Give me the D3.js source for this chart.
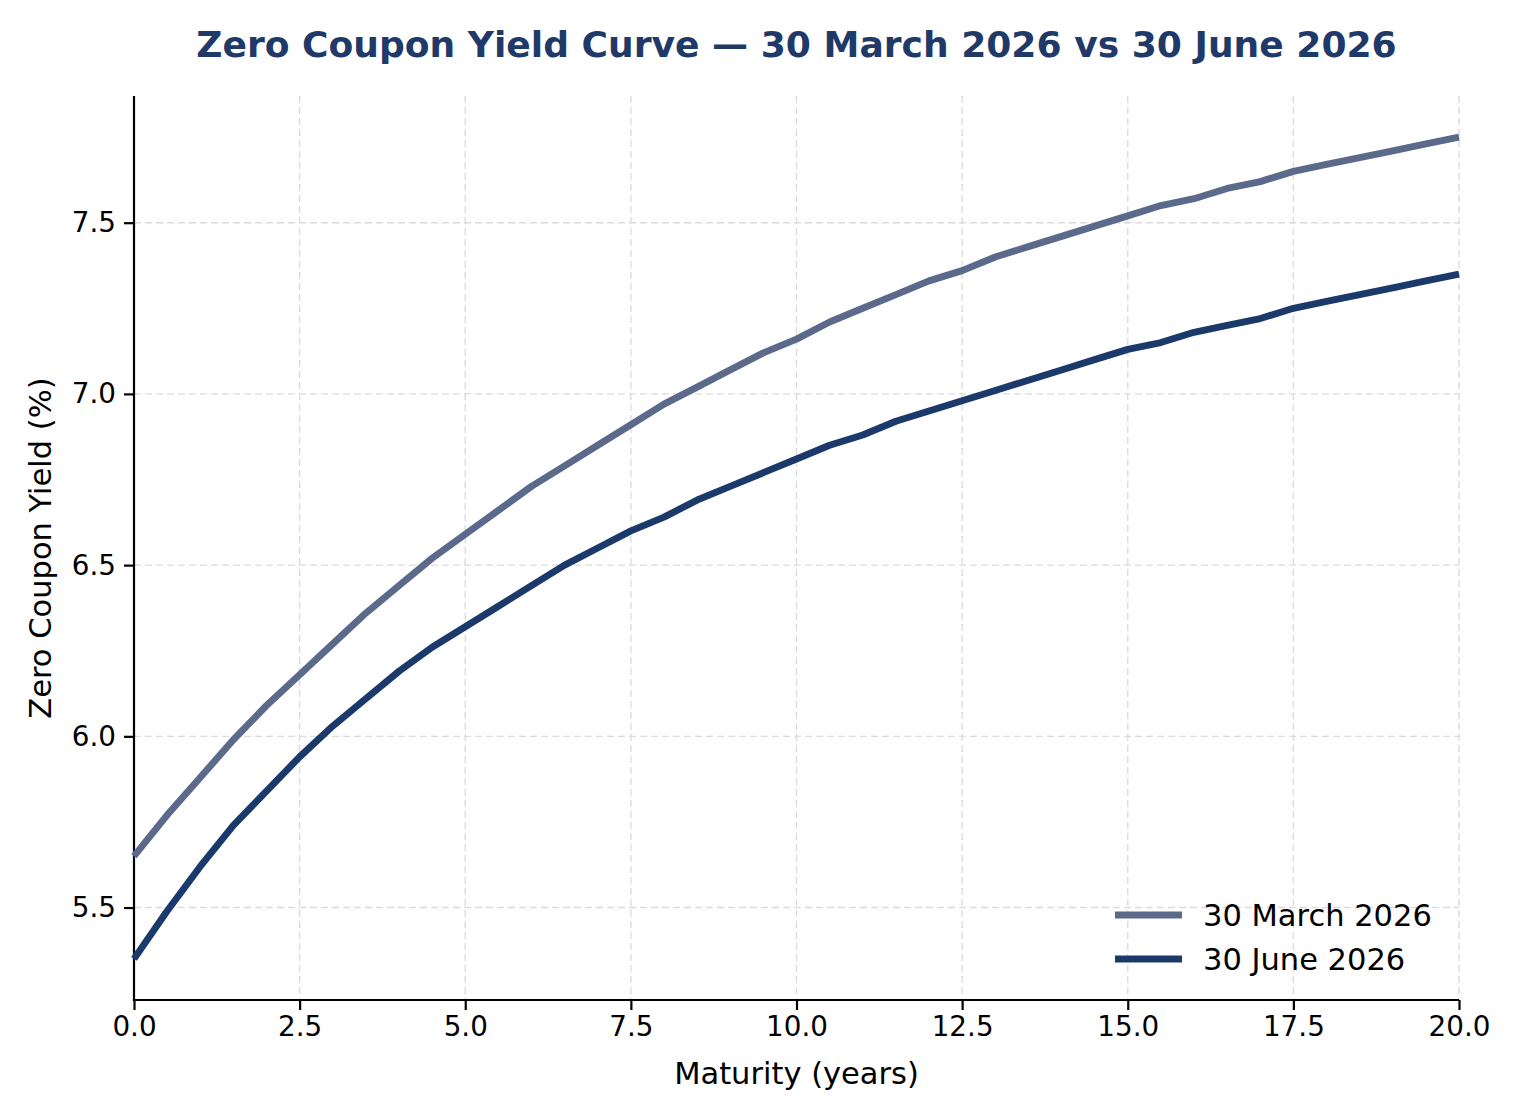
<!DOCTYPE html>
<html>
<head>
<meta charset="utf-8">
<script src="https://cdn.jsdelivr.net/npm/d3@7"></script>
<style>
  body { margin: 0; background: #fff; }
  svg { display: block; font-family: "DejaVu Sans", sans-serif; }
</style>
</head>
<body>
<script>
// maturities in years
const maturities = [0, 0.5, 1, 1.5, 2, 2.5, 3, 3.5, 4, 4.5, 5, 5.5, 6, 6.5, 7, 7.5, 8, 8.5, 9, 9.5, 10,
  10.5, 11, 11.5, 12, 12.5, 13, 13.5, 14, 14.5, 15, 15.5, 16, 16.5, 17, 17.5, 18, 18.5, 19, 19.5, 20];

// zero coupon yields (%)
const marchYields = [5.65, 5.77, 5.88, 5.99, 6.09, 6.18, 6.27, 6.36, 6.44, 6.52, 6.59, 6.66, 6.73, 6.79, 6.85,
  6.91, 6.97, 7.02, 7.07, 7.12, 7.16, 7.21, 7.25, 7.29, 7.33, 7.36, 7.40, 7.43, 7.46, 7.49, 7.52,
  7.55, 7.57, 7.60, 7.62, 7.65, 7.67, 7.69, 7.71, 7.73, 7.75];
const juneYields = [5.35, 5.49, 5.62, 5.74, 5.84, 5.94, 6.03, 6.11, 6.19, 6.26, 6.32, 6.38, 6.44, 6.50, 6.55,
  6.60, 6.64, 6.69, 6.73, 6.77, 6.81, 6.85, 6.88, 6.92, 6.95, 6.98, 7.01, 7.04, 7.07, 7.10, 7.13,
  7.15, 7.18, 7.20, 7.22, 7.25, 7.27, 7.29, 7.31, 7.33, 7.35];

const seriesNames = ["30 March 2026", "30 June 2026"];
const xTicks = [0, 2.5, 5, 7.5, 10, 12.5, 15, 17.5, 20];
const yTicks = [5.5, 6.0, 6.5, 7.0, 7.5];

let w = 1520, h = 1120;
let margin = { left: 134, right: 61, top: 96, bottom: 120 };

let svg = d3.select("body").append("svg")
  .attr("width", w)
  .attr("height", h);

let x = d3.scaleLinear().domain([0, 20]).range([margin.left, w - margin.right]);
let yMin = d3.min(juneYields), yMax = d3.max(marchYields);
let pad = (yMax - yMin) * 0.05;
let y = d3.scaleLinear().domain([yMin - pad, yMax + pad]).range([h - margin.bottom, margin.top]);

//grid
let grid = svg.append("g");
grid.selectAll(".vg").data(xTicks).enter().append("line")
  .attr("x1", d => x(d)).attr("x2", d => x(d))
  .attr("y1", margin.top).attr("y2", h - margin.bottom)
  .style("stroke", "#dcdcdc").style("stroke-width", 1.4).style("stroke-dasharray", "7,4");
grid.selectAll(".hg").data(yTicks).enter().append("line")
  .attr("y1", d => y(d)).attr("y2", d => y(d))
  .attr("x1", margin.left).attr("x2", w - margin.right)
  .style("stroke", "#dcdcdc").style("stroke-width", 1.4).style("stroke-dasharray", "7,4");

//axes
let xAxis = svg.append("g")
  .attr("transform", "translate(0," + (h - margin.bottom) + ")")
  .call(d3.axisBottom(x).tickValues(xTicks).tickFormat(d3.format(".1f")).tickSize(10).tickPadding(6));
let yAxis = svg.append("g")
  .attr("transform", "translate(" + margin.left + ",0)")
  .call(d3.axisLeft(y).tickValues(yTicks).tickFormat(d3.format(".1f")).tickSize(10).tickPadding(8));

[xAxis, yAxis].forEach(a => {
  a.select(".domain").remove();
  a.selectAll(".tick line").style("stroke", "#000").style("stroke-width", 2.2);
  a.selectAll(".tick text").style("font-size", "27.8px").style("fill", "#000")
    .style("font-family", "DejaVu Sans");
});

//spines (left and bottom only)
svg.append("line")
  .attr("x1", margin.left).attr("x2", margin.left)
  .attr("y1", margin.top).attr("y2", h - margin.bottom + 1.1)
  .style("stroke", "#000").style("stroke-width", 2.2);
svg.append("line")
  .attr("x1", margin.left - 1.1).attr("x2", w - margin.right)
  .attr("y1", h - margin.bottom).attr("y2", h - margin.bottom)
  .style("stroke", "#000").style("stroke-width", 2.2);

//lines
let colors = ["#5b6a8b", "#1b3a6b"];
let allSeries = [marchYields, juneYields];
let line = d3.line().x(d => x(d[0])).y(d => y(d[1]));

allSeries.forEach(function(vals, i) {
  svg.append("path")
    .datum(maturities.map((m, j) => [m, vals[j]]))
    .attr("d", line)
    .style("fill", "none")
    .style("stroke", colors[i])
    .style("stroke-width", 6.9)
    .style("stroke-linejoin", "round");
});

//legend
let legend = svg.append("g");
seriesNames.forEach(function(name, i) {
  let ly = 915 + i * 44;
  legend.append("line")
    .attr("x1", 1115).attr("x2", 1182)
    .attr("y1", ly).attr("y2", ly)
    .style("stroke", colors[i]).style("stroke-width", 6.9);
  legend.append("text")
    .attr("x", 1203).attr("y", ly + 10.5)
    .style("font-size", "30.5px")
    .text(name);
});

//title and labels
svg.append("text")
  .attr("x", (margin.left + w - margin.right) / 2)
  .attr("y", 57)
  .attr("text-anchor", "middle")
  .style("font-size", "36.1px")
  .style("font-weight", "bold")
  .style("fill", "#1f3a68")
  .text("Zero Coupon Yield Curve — 30 March 2026 vs 30 June 2026");

svg.append("text")
  .attr("x", (margin.left + w - margin.right) / 2)
  .attr("y", 1084)
  .attr("text-anchor", "middle")
  .style("font-size", "30.5px")
  .text("Maturity (years)");

svg.append("text")
  .attr("transform", "translate(51," + ((margin.top + h - margin.bottom) / 2) + ") rotate(-90)")
  .attr("text-anchor", "middle")
  .style("font-size", "30.5px")
  .text("Zero Coupon Yield (%)");
</script>
</body>
</html>
